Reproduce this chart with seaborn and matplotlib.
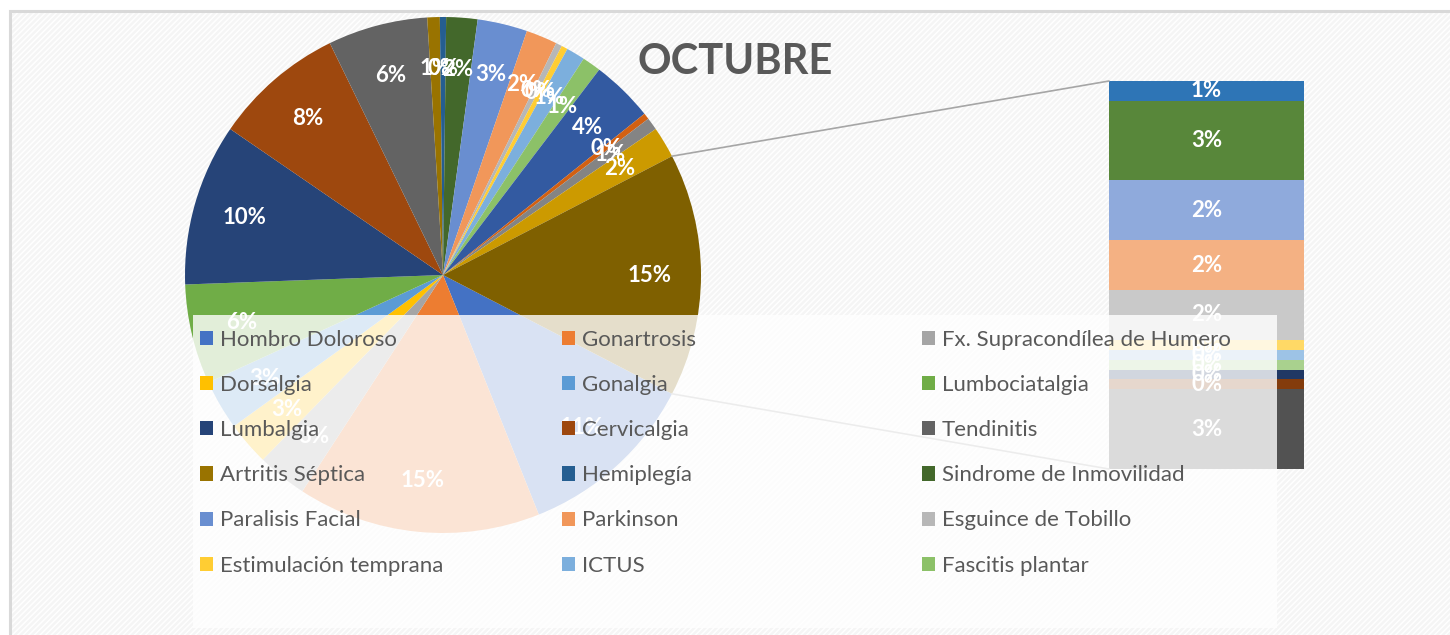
import numpy as np
import seaborn as sns
import matplotlib.pyplot as plt
from matplotlib.patches import Rectangle, Patch, ConnectionPatch

# --- data: patients per diagnosis, October ---
titulo = "OCTUBRE"

# categories shown in the main pie (first 22 of the series)
pie_cats = ["Hombro Doloroso", "Gonartrosis", "Fx. Supracondílea de Humero",
            "Dorsalgia", "Gonalgia", "Lumbociatalgia",
            "Lumbalgia", "Cervicalgia", "Tendinitis",
            "Artritis Séptica", "Hemiplegía", "Sindrome de Inmovilidad",
            "Paralisis Facial", "Parkinson", "Esguince de Tobillo",
            "Estimulación temprana", "ICTUS", "Fascitis plantar",
            "Diagnóstico 19", "Diagnóstico 20", "Diagnóstico 21", "Diagnóstico 22"]
pie_vals = [29, 39, 8, 7, 8, 16, 26, 21, 16, 2, 1, 5, 8, 5, 1, 1, 3, 3, 10, 1, 2, 5]

# categories split off into the secondary bar ("Otro")
bar_cats = ["Diagnóstico 23", "Diagnóstico 24", "Diagnóstico 25", "Diagnóstico 26",
            "Diagnóstico 27", "Diagnóstico 28", "Diagnóstico 29", "Diagnóstico 30",
            "Diagnóstico 31", "Diagnóstico 32", "Diagnóstico 33"]
bar_vals = [2, 8, 6, 5, 5, 1, 1, 1, 1, 1, 8]

# Excel default series colours
pie_colors = ["#4472C4", "#ED7D31", "#A5A5A5", "#FFC000", "#5B9BD5", "#70AD47",
              "#264478", "#9E480E", "#636363", "#997300", "#255E91", "#43682B",
              "#698ED0", "#F1975A", "#B7B7B7", "#FFCD33", "#7CAFDD", "#8CC168",
              "#335AA1", "#D26012", "#848484", "#CC9A00"]
bar_colors = ["#2E75B6", "#58873A", "#8FAADC", "#F4B183", "#C9C9C9", "#FFD966",
              "#9DC3E6", "#A9D18E", "#203864", "#843C0C", "#525252"]
other_color = "#7F6000"

W, H = 1450, 635
sns.set_theme(style="white")
plt.rcParams['font.family'] = ['Lato', 'DejaVu Sans']
plt.rcParams['hatch.linewidth'] = 1.8

fig = plt.figure(figsize=(W / 100, H / 100), dpi=100)
fig.patch.set_facecolor("white")


def fx(px):
    return px / W


def fy(py):
    return 1 - py / H


# striped chart-area background + border
fig.add_artist(Rectangle((fx(10), 0), 1, fy(11), transform=fig.transFigure,
                         facecolor="white", edgecolor="#F5F5F5", hatch="/" * 6,
                         linewidth=0, zorder=-2))
fig.add_artist(Rectangle((fx(10), -0.1), 1, fy(11) + 0.1, transform=fig.transFigure,
                         facecolor="none", edgecolor="#D9D9D9", linewidth=2.2, zorder=-1))

total = sum(pie_vals) + sum(bar_vals)
other = sum(bar_vals)

# main pie
cx, cy, r = 443, 275, 258
ax_pie = fig.add_axes([fx(cx - r), fy(cy + r), (2 * r) / W, (2 * r) / H])
ax_pie.patch.set_visible(False)
vals = pie_vals + [other]
cols = pie_colors + [other_color]
half = other / total * 180
ax_pie.pie(vals, colors=cols, startangle=-half, counterclock=False, radius=1,
           autopct=lambda p: "{:.0f}%".format(p), pctdistance=0.8,
           wedgeprops=dict(linewidth=0),
           textprops=dict(color="white", fontweight="bold", fontsize=16))
ax_pie.set_xlim(-1, 1)
ax_pie.set_ylim(-1, 1)
ax_pie.set_aspect("auto")
ax_pie.axis("off")

# secondary stacked bar
bx0, bx1, by0, by1 = 1109, 1304, 81, 469
ax_bar = fig.add_axes([fx(bx0), fy(by1), (bx1 - bx0) / W, (by1 - by0) / H])
ax_bar.patch.set_visible(False)
top = other
for v, c in zip(bar_vals, bar_colors):
    ax_bar.bar(0, v, bottom=top - v, width=1, color=c, linewidth=0)
    ax_bar.text(0, top - v / 2, "{:.0f}%".format(v / total * 100), ha="center", va="center",
                color="white", fontweight="bold", fontsize=16)
    top -= v
ax_bar.set_xlim(-0.5, 0.5)
ax_bar.set_ylim(0, other)
ax_bar.axis("off")

# connector lines
ang = np.deg2rad(half)
for sgn, yb in [(1, other), (-1, 0)]:
    con = ConnectionPatch(xyA=(np.cos(ang), sgn * np.sin(ang)), coordsA=ax_pie.transData,
                          xyB=(-0.5, yb), coordsB=ax_bar.transData,
                          color="#A6A6A6", linewidth=1.2, zorder=1)
    fig.add_artist(con)

# title
fig.text(fx(735), fy(62), titulo, ha="center", va="center", fontsize=30,
         fontweight="bold", color="#595959")

# legend: translucent box, three columns filled row by row
fig.add_artist(Rectangle((fx(193), fy(628)), (1277 - 193) / W, (628 - 315) / H,
                         transform=fig.transFigure, facecolor="white", alpha=0.8,
                         linewidth=0, zorder=2))
col_x = [200, 562, 922]
for c in range(3):
    idx = list(range(c, 18, 3))
    handles = [Patch(facecolor=pie_colors[i], linewidth=0) for i in idx]
    labels = [pie_cats[i] for i in idx]
    fig.legend(handles, labels, loc="upper left", bbox_to_anchor=(fx(col_x[c]), fy(330)),
               frameon=False, fontsize=16, labelcolor="#595959", borderpad=0,
               borderaxespad=0, handlelength=0.6, handleheight=0.6, handletextpad=0.28,
               labelspacing=1.13)

fig.savefig("out.png", dpi=100)
